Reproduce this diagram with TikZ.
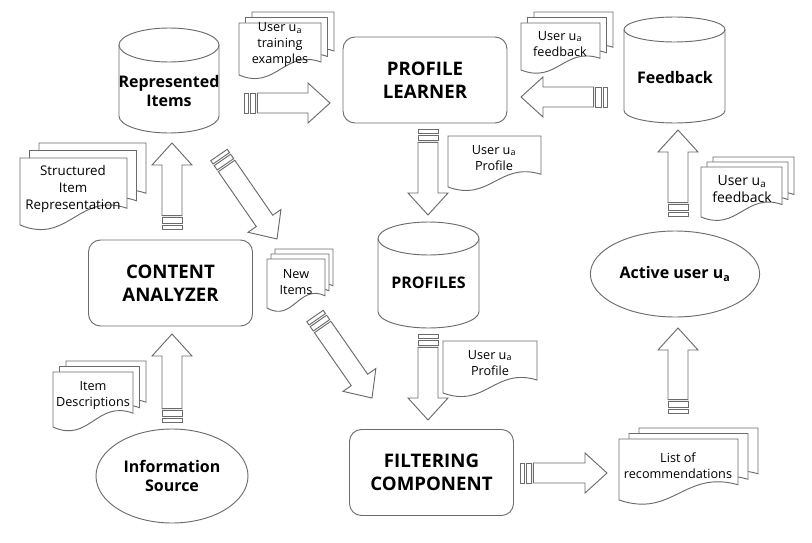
\documentclass[tikz,border=0pt]{standalone}
\usepackage{fontspec}
\setmainfont{Open Sans}
\usetikzlibrary{calc,shapes.geometric}
\colorlet{lineG}{black!58}

\tikzset{
  box/.style={draw=lineG,line width=0.7pt,rounded corners=9pt,
    minimum width=123pt,minimum height=64.5pt,align=center,
    font=\fontsize{14}{17.5}\selectfont\bfseries},
  dbtext/.style={align=center,font=\fontsize{12}{14}\selectfont\bfseries},
  oval/.style={draw=lineG,line width=0.7pt,ellipse,align=center,
    font=\fontsize{12}{14.5}\selectfont\bfseries},
  doctext/.style={align=center,font=\fontsize{9.5}{12}\selectfont},
  sheet/.style={draw=lineG,fill=white,line width=0.7pt},
  barrow/.style={draw=lineG,fill=white,line width=0.7pt,line join=miter}
}

% stack of paper sheets: x, y, w, h of the front one, step dx, dy, sheets
\newcommand{\docstack}[7]{%
  \foreach \k in {#7}{%
    \pgfmathsetmacro{\shx}{#1+\k*#5}%
    \pgfmathsetmacro{\shy}{#2-\k*#6}%
    \filldraw[sheet] (\shx,\shy) -- ++(#3,0) -- ++(0,{0.75*#4})
      .. controls ({\shx+0.55*#3},{\shy+0.5*#4}) and ({\shx+0.45*#3},{\shy+1.3*#4})
      .. (\shx,{\shy+#4}) -- cycle;
  }}

% data store: centre x, top y, width, height, radius of the end ellipses
\newcommand{\dbstore}[5]{%
  \filldraw[sheet] ({#1-#3/2},{#2+#5}) -- ({#1-#3/2},{#2+#4-#5})
    arc[start angle=180,end angle=0,x radius={#3/2},y radius=#5]
    -- ({#1+#3/2},{#2+#5});
  \draw[sheet] (#1,{#2+#5}) ellipse[x radius={#3/2},y radius=#5];
}

% wide arrow with two bars at its tail
\newcommand{\blockarrow}[2]{%
  \coordinate (ba0) at (#1);
  \coordinate (ba1) at ($(#1)!3pt!(#2)$);
  \coordinate (ba2) at ($(#1)!4.5pt!(#2)$);
  \coordinate (ba3) at ($(#1)!8.5pt!(#2)$);
  \coordinate (ba4) at ($(#1)!10pt!(#2)$);
  \coordinate (ba5) at ($(#2)!16.5pt!(#1)$);
  \filldraw[barrow] ($(ba0)!7.5pt!90:(#2)$) -- ($(ba1)!7.5pt!90:(#2)$)
    -- ($(ba1)!7.5pt!-90:(#2)$) -- ($(ba0)!7.5pt!-90:(#2)$) -- cycle;
  \filldraw[barrow] ($(ba2)!7.5pt!90:(#2)$) -- ($(ba3)!7.5pt!90:(#2)$)
    -- ($(ba3)!7.5pt!-90:(#2)$) -- ($(ba2)!7.5pt!-90:(#2)$) -- cycle;
  \filldraw[barrow] ($(ba4)!7.5pt!90:(#2)$) -- ($(ba5)!7.5pt!90:(#2)$)
    -- ($(ba5)!15pt!90:(#2)$) -- (#2) -- ($(ba5)!15pt!-90:(#2)$)
    -- ($(ba5)!7.5pt!-90:(#2)$) -- ($(ba4)!7.5pt!-90:(#2)$) -- cycle;
}

\begin{document}
\begin{tikzpicture}[x=0.75pt,y=-0.75pt]
  \useasboundingbox (0,0) rectangle (812,542);

  % stores
  \dbstore{169}{28}{100}{105}{17}
  \node[dbtext] (repr) at (169,91) {Represented\\Items};
  \dbstore{674.5}{17}{101}{106}{12.5}
  \node[dbtext] (fbstore) at (675,78) {Feedback};
  \dbstore{428.5}{222}{101}{106}{16.5}
  \node[dbtext] (profiles) at (428.5,283) {PROFILES};

  % components
  \node[box] (learner) at (425,80) {PROFILE\\LEARNER};
  \node[box] (analyzer) at (170.5,283) {CONTENT\\ANALYZER};
  \node[box] (filter) at (431.5,472.5) {FILTERING\\COMPONENT};
  \node[oval,minimum width=94.5pt,minimum height=64.5pt] (active) at (675,274)
    {Active user u\textsubscript{a}};
  \node[oval,minimum width=114pt,minimum height=70.5pt] (source) at (172,476)
    {Information\\Source};

  % documents
  \docstack{239}{23}{82}{52}{6.5}{5.5}{2,1,0}
  \node[doctext] (trainex) at (280,45) {User u\textsubscript{a}\\training\\examples};
  \docstack{521}{23}{79}{47}{6.5}{5.5}{2,1,0}
  \node[doctext] (fbtop) at (560,44) {User u\textsubscript{a}\\feedback};
  \docstack{448}{136}{93}{51}{0}{0}{0}
  \node[doctext] (proftop) at (494,158) {User u\textsubscript{a}\\Profile};
  \docstack{443}{341}{94}{52}{0}{0}{0}
  \node[doctext] (profbot) at (490,363) {User u\textsubscript{a}\\Profile};
  \docstack{701}{167}{81}{50}{6}{5}{2,1,0}
  \node[doctext,font=\fontsize{10.5}{13}\selectfont] (fbright) at (742,189)
    {User u\textsubscript{a}\\feedback};
  \docstack{619}{439}{119}{61}{10}{5.5}{2,1,0}
  \node[doctext] (reclist) at (678,466) {List of\\recommendations};
  \docstack{20}{158}{107}{67}{9.5}{7.5}{2,1,0}
  \node[doctext,font=\fontsize{10}{12.5}\selectfont] (structrep) at (73,189)
    {Structured\\Item\\Representation};
  \docstack{267}{259}{58}{49}{4}{5}{2,1,0}
  \node[doctext] (newitems) at (296,282) {New\\Items};
  \docstack{53}{372}{80}{55}{6.5}{5.5}{2,1,0}
  \node[doctext] (itemdesc) at (93,395) {Item\\Descriptions};

  % arrow ends
  \coordinate (r2l-t) at (244,103);  \coordinate (r2l-h) at (330,103);
  \coordinate (f2l-t) at (607,97);   \coordinate (f2l-h) at (521,97);
  \coordinate (l2p-t) at (428,129);  \coordinate (l2p-h) at (428,215);
  \coordinate (p2f-t) at (428,334);  \coordinate (p2f-h) at (428,420);
  \coordinate (f2r-t) at (520,473);  \coordinate (f2r-h) at (607,473);
  \coordinate (r2a-t) at (678,413);  \coordinate (r2a-h) at (678,328);
  \coordinate (a2f-t) at (678,216);  \coordinate (a2f-h) at (678,130);
  \coordinate (c2r-t) at (172,229);  \coordinate (c2r-h) at (172,143);
  \coordinate (s2c-t) at (172,422);  \coordinate (s2c-h) at (172,334);
  \coordinate (r2n-t) at (219,155);  \coordinate (r2n-h) at (277,239);
  \coordinate (n2f-t) at (315,316);  \coordinate (n2f-h) at (372,398);

  \blockarrow{r2l-t}{r2l-h}
  \blockarrow{f2l-t}{f2l-h}
  \blockarrow{l2p-t}{l2p-h}
  \blockarrow{p2f-t}{p2f-h}
  \blockarrow{f2r-t}{f2r-h}
  \blockarrow{r2a-t}{r2a-h}
  \blockarrow{a2f-t}{a2f-h}
  \blockarrow{c2r-t}{c2r-h}
  \blockarrow{s2c-t}{s2c-h}
  \blockarrow{r2n-t}{r2n-h}
  \blockarrow{n2f-t}{n2f-h}
\end{tikzpicture}
\end{document}
